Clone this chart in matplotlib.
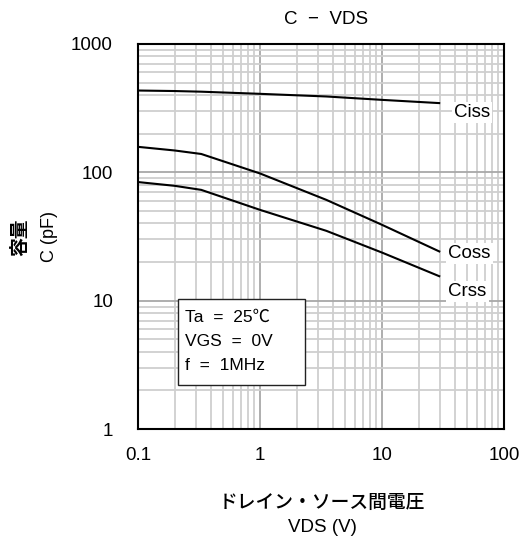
import matplotlib
matplotlib.use("Agg")
import matplotlib.pyplot as plt
from matplotlib.ticker import LogLocator, NullFormatter, FixedLocator
from matplotlib.patches import Rectangle

plt.rcParams['font.family'] = ['Liberation Sans', 'Noto Sans CJK JP', 'DejaVu Sans']

vds = [0.1, 0.2, 0.33, 1, 3.5, 10, 30]
ciss = [434, 430, 425, 409, 390, 367, 346]
coss = [158, 148, 139, 98, 61, 39, 24]
crss = [84, 78.5, 73, 51, 35, 23.7, 15.4]

x_ticks = [0.1, 1, 10, 100]
x_ticklabels = ["0.1", "1", "10", "100"]
y_ticks = [1, 10, 100, 1000]
y_ticklabels = ["1", "10", "100", "1000"]

title = "C  −  VDS"
xlabel_jp = "ドレイン・ソース間電圧"
xlabel_en = "VDS (V)"
ylabel_jp = "容量"
ylabel_en = "C (pF)"
cond_lines = ["Ta  =  25℃", "VGS  =  0V", "f  =  1MHz"]

W, H = 527, 540
fig = plt.figure(figsize=(W / 100, H / 100), dpi=100)
ax = fig.add_axes([138/W, 1-429/H, (504-138)/W, (429-44)/H])
ax.set_xscale('log')
ax.set_yscale('log')
ax.set_xlim(0.1, 100)
ax.set_ylim(1, 1000)

ax.xaxis.set_major_locator(FixedLocator(x_ticks))
ax.yaxis.set_major_locator(FixedLocator(y_ticks))
ax.set_xticklabels(x_ticklabels)
ax.set_yticklabels(y_ticklabels)
ax.xaxis.set_minor_locator(LogLocator(base=10, subs=range(2, 10)))
ax.yaxis.set_minor_locator(LogLocator(base=10, subs=range(2, 10)))
ax.xaxis.set_minor_formatter(NullFormatter())
ax.yaxis.set_minor_formatter(NullFormatter())
ax.tick_params(which='both', length=0)
ax.tick_params(axis='x', pad=13, labelsize=13.5)
ax.tick_params(axis='y', pad=18, labelsize=13.5)

ax.grid(which='minor', color='#cfcfcf', linewidth=1.3)
ax.grid(which='major', color='#a8a8a8', linewidth=1.3)
ax.set_axisbelow(True)
for s in ax.spines.values():
    s.set_linewidth(1.5)
    s.set_color('black')

for ys in (ciss, coss, crss):
    ax.plot(vds, ys, color='black', linewidth=1.5, solid_capstyle='butt')

bb = dict(facecolor='white', edgecolor='none', pad=1.5)
ax.text(39, ciss[-1] * 0.84, "Ciss", fontsize=13.5, va='center', ha='left', bbox=bb)
ax.text(35, coss[-1] * 0.97, "Coss", fontsize=13.5, va='center', ha='left', bbox=bb)
ax.text(35, crss[-1] * 0.77, "Crss", fontsize=13.5, va='center', ha='left', bbox=bb)

# condition box (figure pixel coords)
box = Rectangle((178/W, 1-385/H), (305-178)/W, (385-299)/H, transform=fig.transFigure,
                facecolor='white', edgecolor='#222222', linewidth=1.0, zorder=5)
fig.add_artist(box)
for line, yc in zip(cond_lines, [317, 342, 366]):
    fig.text(185/W, 1 - yc/H, line, ha='left', va='center', fontsize=12.5, zorder=6)

fig.text(326/W, 1 - 20/H, title, ha='center', va='center', fontsize=13.5)
fig.text(322/W, 1 - 502/H, xlabel_jp, ha='center', va='center', fontsize=13.5,
         family=['Noto Sans CJK JP'], fontweight='medium')
fig.text(322/W, 1 - 527/H, xlabel_en, ha='center', va='center', fontsize=13.5)
fig.text(20/W, 1 - 237/H, ylabel_jp, ha='center', va='center', fontsize=13.5,
         rotation=90, family=['Noto Sans CJK JP'], fontweight='bold')
fig.text(49/W, 1 - 237/H, ylabel_en, ha='center', va='center', fontsize=13,
         rotation=90)

fig.savefig("out.png", dpi=100)
